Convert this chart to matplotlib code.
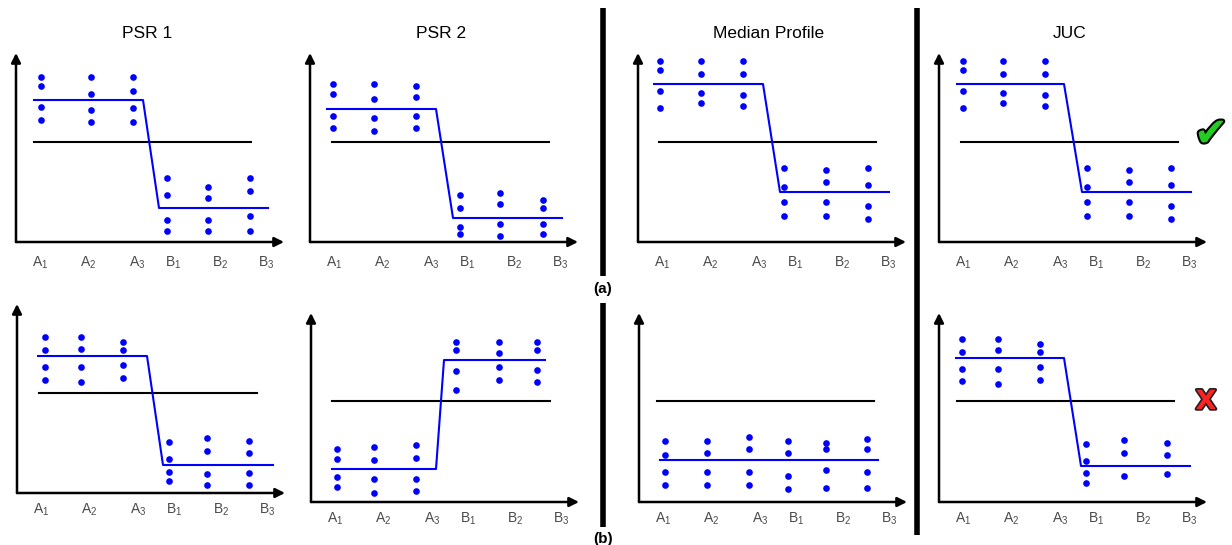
import matplotlib.pyplot as plt
from matplotlib.lines import Line2D
import matplotlib.patheffects as pe

plt.rcParams['font.family'] = ['Liberation Sans', 'DejaVu Sans']
plt.rcParams['mathtext.default'] = 'regular'

categories = ['A_1', 'A_2', 'A_3', 'B_1', 'B_2', 'B_3']
titles = ['PSR 1', 'PSR 2', 'Median Profile', 'JUC']

# dot heights above the x axis, one list per category (row a)
psr1_a = [[165, 156, 135, 122], [165, 148, 132, 120], [165, 151, 134, 120],
          [64, 47, 22, 11], [55, 44, 22, 11], [64, 51, 26, 11]]
psr2_a = [[158, 148, 126, 114], [158, 143, 124, 111], [156, 145, 126, 114],
          [47, 34, 15, 8], [49, 38, 18, 6], [42, 34, 18, 8]]
median_a = [[181, 172, 151, 134], [181, 168, 149, 139], [181, 168, 147, 136],
            [74, 55, 40, 26], [72, 60, 40, 26], [74, 57, 36, 23]]
juc_a = [[181, 172, 151, 134], [181, 168, 149, 139], [181, 168, 147, 136],
         [74, 55, 40, 26], [72, 60, 40, 26], [74, 57, 36, 23]]

# row b
psr1_b = [[156, 143, 126, 113], [156, 144, 126, 111], [151, 143, 128, 115],
          [51, 34, 21, 12], [55, 42, 19, 8], [52, 40, 20, 8]]
psr2_b = [[53, 43, 25, 15], [55, 42, 23, 9], [57, 44, 23, 11],
          [160, 152, 131, 112], [160, 149, 135, 122], [160, 152, 132, 120]]
median_b = [[61, 47, 30, 17], [61, 49, 30, 17], [65, 53, 30, 17],
            [61, 49, 26, 13], [59, 53, 32, 14], [63, 53, 30, 14]]
juc_b = [[163, 150, 133, 121], [163, 152, 133, 118], [158, 150, 135, 122],
         [58, 41, 29, 19], [62, 49, 26], [59, 47, 28]]

# fitted profile levels (A group, B group)
fit_a = [[142, 34], [133, 24], [158, 50], [158, 50]]
fit_b = [[137, 28], [33, 142], [42, 42], [144, 36]]

# threshold level
thresh_a = [100, 100, 100, 100]
thresh_b = [100, 101, 101, 101]

# ---- layout (pixels) ----
FW, FH = 1232, 545
W, H = 268, 189
origins_a = [(16, 242), (310, 242), (638, 242), (939, 242)]
origins_b = [(17, 493), (311, 502), (639, 502), (939, 502)]
dotx_a = [[25, 75, 117, 151, 192, 234], [23, 64, 106, 150, 190, 233],
          [22, 63, 105, 146, 188, 230], [24, 64, 106, 148, 190, 232]]
dotx_b = [[28, 64, 106, 152, 190, 232], [26, 63, 105, 145, 188, 226],
          [26, 68, 110, 149, 187, 228], [23, 59, 101, 147, 185, 228]]
fitx_a = [(18, 127, 143, 252), (17, 126, 143, 252), (16, 125, 142, 251), (18, 125, 143, 252)]
fitx_b = [(21, 130, 146, 256), (21, 125, 133, 234), (21, 130, 130, 239), (17, 125, 142, 251)]
threshx_a = [(18, 235), (22, 239), (21, 238), (22, 239)]
threshx_b = [(22, 240), (21, 239), (18, 235), (18, 235)]
label_x = [24, 72, 121, 157, 204, 250]

BLUE = '#0000ff'

fig = plt.figure(figsize=(FW / 100, FH / 100), dpi=100)


def panel(origin, dots, dx, fit, fx, thr, tx, label_off, title=None):
    ox, oy = origin
    ax = fig.add_axes([ox / FW, (FH - oy) / FH, W / FW, H / FH])
    ax.set_xlim(0, W)
    ax.set_ylim(0, H)
    ax.axis('off')
    arrow = dict(arrowstyle='-|>', color='black', lw=1.8, mutation_scale=14,
                 shrinkA=0, shrinkB=0)
    ax.annotate('', xy=(0, H), xytext=(0, 0), arrowprops=arrow)
    ax.annotate('', xy=(W, 0), xytext=(0, 0), arrowprops=arrow)
    ax.plot(tx, [thr, thr], color='black', lw=1.5, clip_on=False)
    ax.plot(fx, [fit[0], fit[0], fit[1], fit[1]], color=BLUE, lw=1.5, clip_on=False)
    for x, ys in zip(dx, dots):
        ax.plot([x] * len(ys), ys, 'o', color=BLUE, ms=4.8, mew=0, clip_on=False)
    for x, c in zip(label_x, categories):
        ax.text(x, -label_off, f'${c}$', ha='center', va='center',
                fontsize=10, color='#4a4a4a')
    if title:
        ax.text(W / 2 - 3, H + 20, title, ha='center', va='center', fontsize=12.5)


rows_a = [psr1_a, psr2_a, median_a, juc_a]
rows_b = [psr1_b, psr2_b, median_b, juc_b]
for i in range(4):
    panel(origins_a[i], rows_a[i], dotx_a[i], fit_a[i], fitx_a[i],
          thresh_a[i], threshx_a[i], 21, titles[i])
    panel(origins_b[i], rows_b[i], dotx_b[i], fit_b[i], fitx_b[i],
          thresh_b[i], threshx_b[i], 17)

# separators
sep = dict(color='black', lw=4, solid_capstyle='butt', transform=fig.transFigure)
fig.add_artist(Line2D([603 / FW] * 2, [1 - 8 / FH, 1 - 276 / FH], **sep))
fig.add_artist(Line2D([603 / FW] * 2, [1 - 303 / FH, 1 - 527 / FH], **sep))
fig.add_artist(Line2D([917 / FW] * 2, [1 - 8 / FH, 1 - 535 / FH], **sep))

fig.text(603 / FW, 1 - 289 / FH, '(a)', ha='center', va='center',
         fontsize=11, fontweight='bold')
fig.text(603 / FW, 1 - 539 / FH, '(b)', ha='center', va='center',
         fontsize=11, fontweight='bold')

fig.text(1211 / FW, 1 - 135 / FH, '\u2714', ha='center', va='center',
         fontsize=29, color='#22cc22', family='DejaVu Sans',
         path_effects=[pe.withStroke(linewidth=3, foreground='black')])
fig.text(1206 / FW, 1 - 402 / FH, 'X', ha='center', va='center',
         fontsize=19, fontweight='bold', color='#ff2222', family='DejaVu Sans',
         path_effects=[pe.withStroke(linewidth=2.5, foreground='#222222')])

fig.savefig('out.png', dpi=100)
